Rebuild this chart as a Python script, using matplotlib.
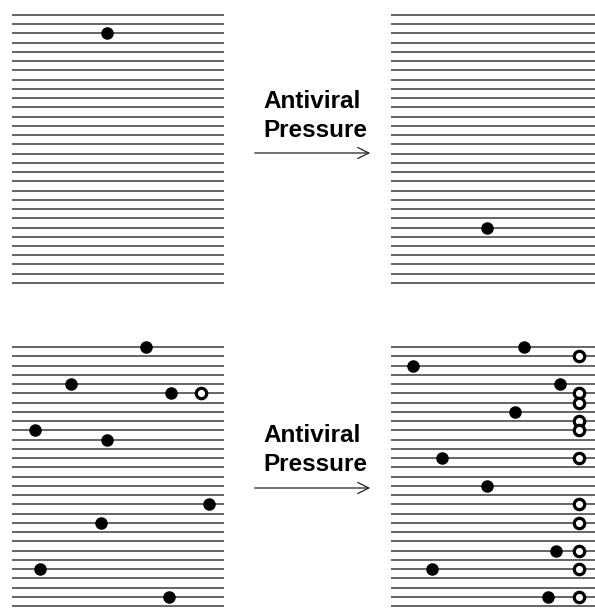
import matplotlib
matplotlib.use("Agg")
import matplotlib.pyplot as plt

# number of horizontal lines (sequences) per panel
top_lines = 30
bottom_lines = 29

# dots: position along the line (0-100) and line number (1 = top)
tl_filled_x = [45]
tl_filled_row = [3]
tr_filled_x = [47]
tr_filled_row = [24]

bl_filled_x = [63, 28, 75, 11, 45, 93, 42, 13, 74]
bl_filled_row = [1, 5, 6, 10, 11, 18, 20, 25, 28]
bl_open_x = [89]
bl_open_row = [6]

br_filled_x = [65, 11, 83, 61, 25, 47, 81, 20, 77]
br_filled_row = [1, 3, 5, 8, 13, 16, 23, 25, 28]
br_open_x = [92, 92, 92, 92, 92, 92, 92, 92, 92, 92, 92]
br_open_row = [2, 6, 7, 9, 10, 13, 18, 20, 23, 25, 28]

label = "Antiviral\nPressure"

W, H = 595, 611
fig = plt.figure(figsize=(W / 100, H / 100), dpi=100)


def panel(left, top, width, n, spacing, fx, fr, ox=(), orow=()):
    ax = fig.add_axes([left / W, 1 - (top + n * spacing) / H, width / W, n * spacing / H])
    ax.hlines(range(1, n + 1), 0, 100, color="#3a3a3a", linewidth=1.1)
    ax.scatter(fx, fr, s=64, color="black", zorder=3, clip_on=False)
    if len(ox):
        ax.scatter(ox, orow, s=56, facecolor="white", edgecolor="black",
                   linewidth=2.3, zorder=3, clip_on=False)
    ax.set_xlim(0, 100)
    ax.set_ylim(n + 0.5, 0.5)
    ax.axis("off")
    return ax


sp_top = 9.24
sp_bot = 9.25
panel(12, 15 - sp_top / 2, 212, top_lines, sp_top, tl_filled_x, tl_filled_row)
panel(391, 15 - sp_top / 2, 204, top_lines, sp_top, tr_filled_x, tr_filled_row)
panel(12, 347 - sp_bot / 2, 212, bottom_lines, sp_bot, bl_filled_x, bl_filled_row,
      bl_open_x, bl_open_row)
panel(391, 347 - sp_bot / 2, 204, bottom_lines, sp_bot, br_filled_x, br_filled_row,
      br_open_x, br_open_row)

# text and arrows between panels
for ty, ay in [(116, 153), (450, 488)]:
    fig.text(263 / W, 1 - ty / H, label, ha="left", va="center",
             fontsize=17.5, fontweight="bold", family="Liberation Sans",
             linespacing=1.3)
    fig.add_artist(matplotlib.patches.FancyArrowPatch(
        (252 / W, 1 - ay / H), (373 / W, 1 - ay / H), transform=fig.transFigure,
        arrowstyle="->,head_length=8,head_width=4", color="#222222",
        linewidth=0.9, mutation_scale=1))

fig.savefig("out.png", dpi=100)
